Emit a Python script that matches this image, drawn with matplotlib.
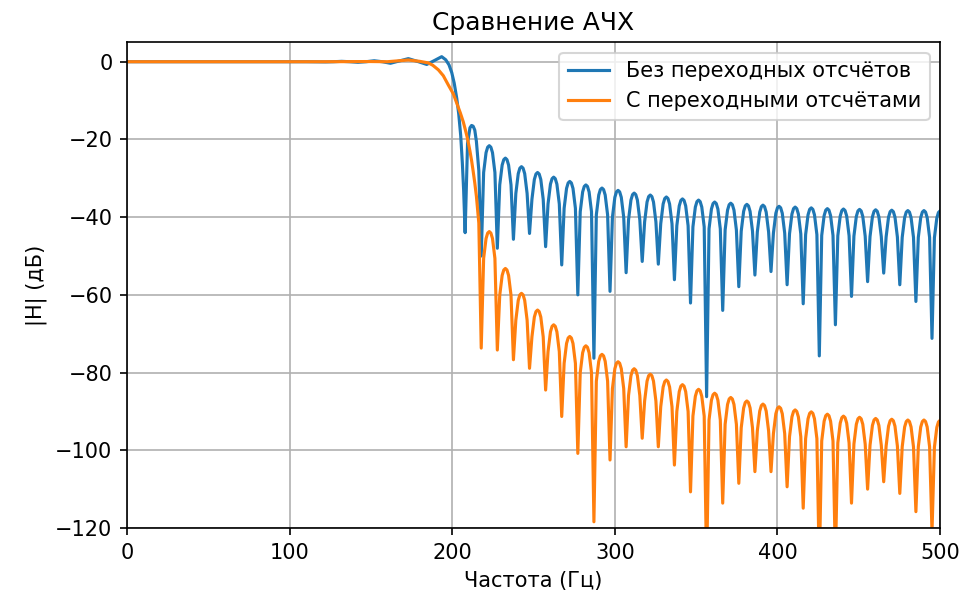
import matplotlib.pyplot as plt
import numpy as np

# FIR filter, frequency sampling: fs = 1000 Hz, N = 101 -> null spacing fs/N
fs = 1000
N = 101
bin_hz = fs / N
first_bin = 21
# positions inside one side lobe (fraction of a bin): null, shoulders, peak, shoulders
lobe_t = np.array([0, 0.15, 0.3, 0.4, 0.5, 0.6, 0.7, 0.85])

# passband + transition
pass_f_blue = [0, 40, 80, 110, 122, 127, 132, 137, 142, 147, 152, 157, 162, 167.5, 173,
               178.5, 184.3, 189, 193.5, 196, 198, 199.7, 201.2, 202.8, 204.0, 205.2, 206.2, 207.0]
pass_db_blue = [0, 0, 0, 0, -0.05, 0, 0.1, 0, -0.15, 0, 0.25, 0, -0.4, 0.2, 0.8,
                0.1, -0.7, 0.3, 1.3, 0.5, -0.8, -2.8, -5.5, -9.5, -13.5, -19.0, -26.0, -33.0]

pass_f_orange = [0, 60, 120, 150, 160, 166, 173, 180, 185.3, 188, 191.5, 194.5, 197.6,
                 200.7, 202.8, 205, 206.8]
pass_db_orange = [0, 0, 0, 0.05, 0, 0.2, 0.45, 0.1, -0.3, -0.9, -2.1, -3.6, -6.0,
                  -8.3, -10.7, -13.2, -15.5]

# stopband, one row per bin k = 21..50 : [null, sh, sh, sh, peak, sh, sh, sh] in dB
stop_db_blue = [
    [-44.0, -21.0, -17.0, -16.4, -16.6, -17.6, -20.5, -28.0],
    [-50.0, -28.5, -23.4, -22.0, -21.6, -22.0, -23.4, -28.5],
    [-48.0, -31.7, -26.6, -25.2, -24.8, -25.2, -26.6, -31.7],
    [-45.7, -33.9, -28.8, -27.4, -27.0, -27.4, -28.8, -33.9],
    [-44.2, -35.4, -30.3, -28.9, -28.5, -28.9, -30.3, -35.4],
    [-47.6, -36.6, -31.5, -30.1, -29.7, -30.1, -31.5, -36.6],
    [-52.3, -37.7, -32.6, -31.2, -30.8, -31.2, -32.6, -37.7],
    [-60.0, -38.6, -33.5, -32.1, -31.7, -32.1, -33.5, -38.6],
    [-76.3, -39.4, -34.3, -32.9, -32.5, -32.9, -34.3, -39.4],
    [-59.1, -40.0, -34.9, -33.5, -33.1, -33.5, -34.9, -40.0],
    [-54.3, -40.7, -35.6, -34.2, -33.8, -34.2, -35.6, -40.7],
    [-51.4, -41.2, -36.1, -34.7, -34.3, -34.7, -36.1, -41.2],
    [-52.1, -41.7, -36.6, -35.2, -34.8, -35.2, -36.6, -41.7],
    [-56.1, -42.2, -37.1, -35.7, -35.3, -35.7, -37.1, -42.2],
    [-62.1, -42.5, -37.4, -36.0, -35.6, -36.0, -37.4, -42.5],
    [-86.2, -43.0, -37.9, -36.5, -36.1, -36.5, -37.9, -43.0],
    [-64.0, -43.3, -38.2, -36.8, -36.4, -36.8, -38.2, -43.3],
    [-57.9, -43.6, -38.5, -37.1, -36.7, -37.1, -38.5, -43.6],
    [-54.9, -43.8, -38.7, -37.3, -36.9, -37.3, -38.7, -43.8],
    [-54.0, -44.1, -39.0, -37.6, -37.2, -37.6, -39.0, -44.1],
    [-57.4, -44.3, -39.2, -37.8, -37.4, -37.8, -39.2, -44.3],
    [-62.3, -44.5, -39.4, -38.0, -37.6, -38.0, -39.4, -44.5],
    [-75.7, -44.7, -39.6, -38.2, -37.8, -38.2, -39.6, -44.7],
    [-67.7, -44.8, -39.7, -38.3, -37.9, -38.3, -39.7, -44.8],
    [-60.4, -44.9, -39.8, -38.4, -38.0, -38.4, -39.8, -44.9],
    [-56.6, -45.0, -39.9, -38.5, -38.1, -38.5, -39.9, -45.0],
    [-54.4, -45.1, -40.0, -38.6, -38.2, -38.6, -40.0, -45.1],
    [-57.4, -45.2, -40.1, -38.7, -38.3, -38.7, -40.1, -45.2],
    [-61.7, -45.2, -40.1, -38.7, -38.3, -38.7, -40.1, -45.2],
    [-71.2, -45.3, -40.2, -38.8, -38.4],
]

stop_db_orange = [
    [-17.3, -19.8, -23.0, -25.4, -28.2, -31.2, -34.6, -41.5],
    [-73.7, -50.6, -45.5, -44.1, -43.7, -44.1, -45.5, -50.6],
    [-74.2, -60.1, -55.0, -53.6, -53.2, -53.6, -55.0, -60.1],
    [-76.7, -66.5, -61.4, -60.0, -59.6, -60.0, -61.4, -66.5],
    [-78.9, -70.8, -65.7, -64.3, -63.9, -64.3, -65.7, -70.8],
    [-84.5, -74.6, -69.5, -68.1, -67.7, -68.1, -69.5, -74.6],
    [-91.3, -77.6, -72.5, -71.1, -70.7, -71.1, -72.5, -77.6],
    [-100.8, -80.0, -74.9, -73.5, -73.1, -73.5, -74.9, -80.0],
    [-118.4, -82.2, -77.1, -75.7, -75.3, -75.7, -77.1, -82.2],
    [-102.5, -84.1, -79.0, -77.6, -77.2, -77.6, -79.0, -84.1],
    [-99.1, -85.9, -80.8, -79.4, -79.0, -79.4, -80.8, -85.9],
    [-96.9, -87.3, -82.2, -80.8, -80.4, -80.8, -82.2, -87.3],
    [-99.1, -88.8, -83.7, -82.3, -81.9, -82.3, -83.7, -88.8],
    [-103.8, -90.0, -84.9, -83.5, -83.1, -83.5, -84.9, -90.0],
    [-110.7, -91.2, -86.1, -84.7, -84.3, -84.7, -86.1, -91.2],
    [-130.0, -92.2, -87.1, -85.7, -85.3, -85.7, -87.1, -92.2],
    [-113.6, -93.3, -88.2, -86.8, -86.4, -86.8, -88.2, -93.3],
    [-108.5, -94.2, -89.1, -87.7, -87.3, -87.7, -89.1, -94.2],
    [-105.5, -95.0, -89.9, -88.5, -88.1, -88.5, -89.9, -95.0],
    [-105.5, -95.7, -90.6, -89.2, -88.8, -89.2, -90.6, -95.7],
    [-109.4, -96.5, -91.4, -90.0, -89.6, -90.0, -91.4, -96.5],
    [-114.9, -97.0, -91.9, -90.5, -90.1, -90.5, -91.9, -97.0],
    [-130.0, -97.6, -92.5, -91.1, -90.7, -91.1, -92.5, -97.6],
    [-128.0, -98.1, -93.0, -91.6, -91.2, -91.6, -93.0, -98.1],
    [-113.6, -98.4, -93.3, -91.9, -91.5, -91.9, -93.3, -98.4],
    [-110.0, -98.7, -93.6, -92.2, -91.8, -92.2, -93.6, -98.7],
    [-108.1, -98.9, -93.8, -92.4, -92.0, -92.4, -93.8, -98.9],
    [-111.1, -99.1, -94.0, -92.6, -92.2, -92.6, -94.0, -99.1],
    [-115.8, -99.1, -94.0, -92.6, -92.2, -92.6, -94.0, -99.1],
    [-121.0, -99.2, -94.1, -92.7, -92.3],
]

labels = ['Без переходных отсчётов', 'С переходными отсчётами']


def full_curve(pass_f, pass_db, rows):
    f = list(pass_f)
    db = list(pass_db)
    for i, row in enumerate(rows):
        f.extend((first_bin + i + lobe_t[:len(row)]) * bin_hz)
        db.extend(row)
    return np.array(f), np.array(db)


if __name__ == '__main__':
    f1, h1 = full_curve(pass_f_blue, pass_db_blue, stop_db_blue)
    f2, h2 = full_curve(pass_f_orange, pass_db_orange, stop_db_orange)

    fig = plt.figure(figsize=(961 / 150, 4), dpi=150)
    ax = fig.add_axes([0.1322, 0.12, 0.846, 0.8095])
    ax.plot(f1, h1, label=labels[0])
    ax.plot(f2, h2, label=labels[1])
    ax.set_title('Сравнение АЧХ')
    ax.set_xlabel('Частота (Гц)')
    ax.set_ylabel('|H| (дБ)')
    ax.set_xlim(0, 500)
    ax.set_ylim(-120, 5)
    ax.grid(True)
    ax.legend(loc='upper right')
    fig.savefig('out.png', dpi=150)
